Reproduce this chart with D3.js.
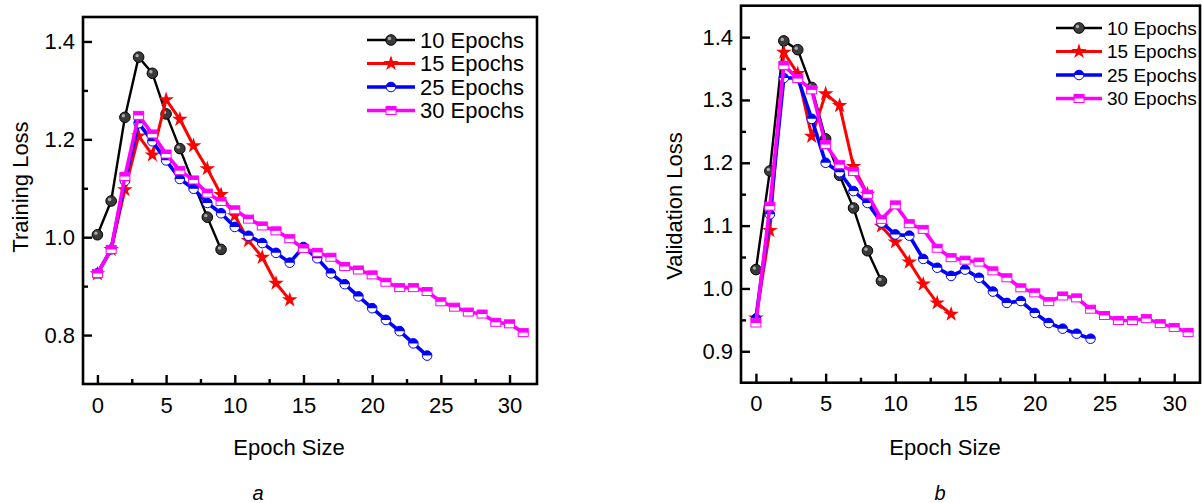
<html>
  <head>
    <meta charset="utf-8" />
    <title>Training and validation loss</title>
    <script src="https://cdn.jsdelivr.net/npm/d3@7/dist/d3.min.js"></script>
  </head>
  <style>
    html,
    body {
      margin: 0;
      padding: 0;
      background: #fff;
    }
    svg text {
      font-family: "Liberation Sans", Arial, sans-serif;
      fill: #000;
    }
  </style>
  <body>
    <svg width="1202" height="503" id="mainsvg"></svg>
    <script>
      // ---- data ----
      const seriesNames = ["10 Epochs", "15 Epochs", "25 Epochs", "30 Epochs"];

      const trainLoss10 = [1.005, 1.074, 1.245, 1.368, 1.335, 1.252, 1.181, 1.11, 1.041, 0.975];
      const trainLoss15 = [0.925, 0.975, 1.097, 1.207, 1.168, 1.281, 1.241, 1.187, 1.14, 1.087,
        1.044, 0.993, 0.959, 0.906, 0.872];
      const trainLoss25 = [0.926, 0.975, 1.115, 1.233, 1.196, 1.157, 1.119, 1.099, 1.07, 1.049,
        1.021, 1.003, 0.988, 0.968, 0.948, 0.98, 0.957, 0.926, 0.904, 0.879, 0.855, 0.831,
        0.808, 0.783, 0.758];
      const trainLoss30 = [0.926, 0.975, 1.124, 1.249, 1.211, 1.17, 1.136, 1.117, 1.09, 1.073,
        1.056, 1.037, 1.023, 1.013, 0.997, 0.977, 0.969, 0.959, 0.94, 0.933, 0.923, 0.908,
        0.897, 0.897, 0.889, 0.868, 0.857, 0.847, 0.843, 0.826, 0.823, 0.805];

      const valLoss10 = [1.03, 1.187, 1.394, 1.38, 1.32, 1.238, 1.18, 1.128, 1.06, 1.012];
      const valLoss15 = [0.953, 1.092, 1.376, 1.342, 1.242, 1.31, 1.291, 1.194, 1.15, 1.099,
        1.074, 1.042, 1.007, 0.977, 0.959];
      const valLoss25 = [0.952, 1.118, 1.335, 1.335, 1.27, 1.2, 1.185, 1.155, 1.136, 1.105,
        1.086, 1.084, 1.047, 1.033, 1.02, 1.03, 1.017, 0.995, 0.977, 0.98, 0.961, 0.945,
        0.936, 0.928, 0.92];
      const valLoss30 = [0.945, 1.131, 1.355, 1.334, 1.316, 1.229, 1.197, 1.186, 1.15, 1.11,
        1.133, 1.103, 1.094, 1.064, 1.049, 1.045, 1.042, 1.028, 1.017, 1.001, 0.993, 0.979,
        0.988, 0.985, 0.967, 0.957, 0.949, 0.949, 0.952, 0.944, 0.938, 0.93];

      const xTicks = [0, 5, 10, 15, 20, 25, 30];
      const trainTicks = [0.8, 1.0, 1.2, 1.4];
      const valTicks = [0.9, 1.0, 1.1, 1.2, 1.3, 1.4];

      const colors = ["#000000", "#ff0000", "#0000ff", "#ff00ff"];
      const markers = ["ball", "star", "halfCircle", "halfSquare"];
      const widths = [2.4, 3, 3.6, 3.6];

      const svg = d3.select("#mainsvg");

      function drawMarker(g, type, color, x, y) {
        if (type === "ball") {
          g.append("circle").attr("cx", x).attr("cy", y).attr("r", 5.3)
            .attr("fill", "#3a3a3a").attr("stroke", "#000").attr("stroke-width", 1);
          g.append("circle").attr("cx", x - 1.5).attr("cy", y - 1.5).attr("r", 1.7)
            .attr("fill", "#aaa");
        } else if (type === "star") {
          g.append("path").attr("d", d3.symbol(d3.symbolStar, 75)())
            .attr("transform", `translate(${x},${y})`).attr("fill", color);
        } else if (type === "halfCircle") {
          g.append("circle").attr("cx", x).attr("cy", y).attr("r", 4.8)
            .attr("fill", "#fff").attr("stroke", color).attr("stroke-width", 1);
          g.append("path")
            .attr("d", `M${x - 4.8},${y} A4.8,4.8 0 0 1 ${x + 4.8},${y} Z`)
            .attr("fill", color);
        } else {
          g.append("rect").attr("x", x - 5).attr("y", y - 4).attr("width", 10).attr("height", 8)
            .attr("fill", "#fff").attr("stroke", color).attr("stroke-width", 1);
          g.append("rect").attr("x", x - 5).attr("y", y - 4).attr("width", 10).attr("height", 4)
            .attr("fill", color);
        }
      }

      function drawPanel(cfg) {
        const xScale = d3.scaleLinear().domain(cfg.xDomain).range(cfg.xRange);
        const yScale = d3.scaleLinear().domain(cfg.yDomain).range(cfg.yRange);
        const g = svg.append("g");

        // minor ticks
        const xMinor = d3.range(2.5, 32, 5);
        g.append("g").attr("transform", `translate(0,${cfg.yRange[0]})`)
          .call(d3.axisBottom(xScale).tickValues(xMinor).tickSize(-5).tickFormat(""));
        g.append("g").attr("transform", `translate(${cfg.xRange[0]},0)`)
          .call(d3.axisLeft(yScale).tickValues(cfg.yMinor).tickSize(-5).tickFormat(""));

        // major ticks
        g.append("g").attr("class", "myx")
          .attr("transform", `translate(0,${cfg.yRange[0]})`)
          .call(d3.axisBottom(xScale).tickValues(xTicks).tickSize(-9).tickPadding(13));
        g.append("g").attr("class", "myy")
          .attr("transform", `translate(${cfg.xRange[0]},0)`)
          .call(d3.axisLeft(yScale).tickValues(cfg.yTicks).tickSize(-9).tickPadding(8)
            .tickFormat(d3.format(".1f")));

        g.selectAll(".domain").remove();
        g.selectAll(".tick line").attr("stroke", "#000").attr("stroke-width", 2.4);
        g.selectAll(".tick text").style("font-size", "22px");

        // frame
        g.append("rect")
          .attr("x", cfg.xRange[0]).attr("y", cfg.yRange[1])
          .attr("width", cfg.xRange[1] - cfg.xRange[0])
          .attr("height", cfg.yRange[0] - cfg.yRange[1])
          .attr("fill", "none").attr("stroke", "#000").attr("stroke-width", 2.6);

        // series
        const line = d3.line().x((d, i) => xScale(i)).y((d) => yScale(d));
        cfg.series.forEach((vals, k) => {
          g.append("path").datum(vals).attr("d", line)
            .attr("fill", "none").attr("stroke", colors[k])
            .attr("stroke-width", widths[k]).attr("stroke-linejoin", "round");
          const mg = g.append("g");
          vals.forEach((v, i) => drawMarker(mg, markers[k], colors[k], xScale(i), yScale(v)));
        });

        // legend
        const lg = cfg.legend;
        seriesNames.forEach((name, k) => {
          const ly = lg.y + k * 23.5;
          g.append("line")
            .attr("x1", lg.x).attr("x2", lg.x + lg.len)
            .attr("y1", ly).attr("y2", ly)
            .attr("stroke", colors[k]).attr("stroke-width", widths[k]);
          drawMarker(g, markers[k], colors[k], lg.x + lg.len / 2, ly);
          g.append("text").attr("x", lg.x + lg.len + 5).attr("y", ly + lg.font * 0.36)
            .style("font-size", lg.font + "px").text(name);
        });

        // axis titles
        g.append("text")
          .attr("transform", `translate(${cfg.yTitleX},${cfg.yTitleY}) rotate(-90)`)
          .attr("text-anchor", "middle").style("font-size", "22px").text(cfg.yTitle);
        g.append("text")
          .attr("x", cfg.xTitleX).attr("y", 455)
          .attr("text-anchor", "middle").style("font-size", "22px").text("Epoch Size");
        g.append("text")
          .attr("x", cfg.letterX).attr("y", 500)
          .attr("text-anchor", "middle").style("font-size", "20px")
          .style("font-style", "italic").text(cfg.letter);
      }

      drawPanel({
        xDomain: [-1.05, 32], xRange: [83, 537],
        yDomain: [0.7, 1.45], yRange: [384, 17],
        yTicks: trainTicks, yMinor: [0.9, 1.1, 1.3],
        series: [trainLoss10, trainLoss15, trainLoss25, trainLoss30],
        legend: { x: 367, y: 40, len: 48, font: 22 },
        yTitle: "Training Loss", yTitleX: 28, yTitleY: 187,
        xTitleX: 289, letter: "a", letterX: 258
      });

      drawPanel({
        xDomain: [-1.07, 31.85], xRange: [741, 1200],
        yDomain: [0.85, 1.45], yRange: [382.7, 5.7],
        yTicks: valTicks, yMinor: [0.95, 1.05, 1.15, 1.25, 1.35],
        series: [valLoss10, valLoss15, valLoss25, valLoss30],
        legend: { x: 1056, y: 28, len: 46, font: 19 },
        yTitle: "Validation Loss", yTitleX: 682, yTitleY: 206,
        xTitleX: 945, letter: "b", letterX: 940
      });
    </script>
  </body>
</html>
